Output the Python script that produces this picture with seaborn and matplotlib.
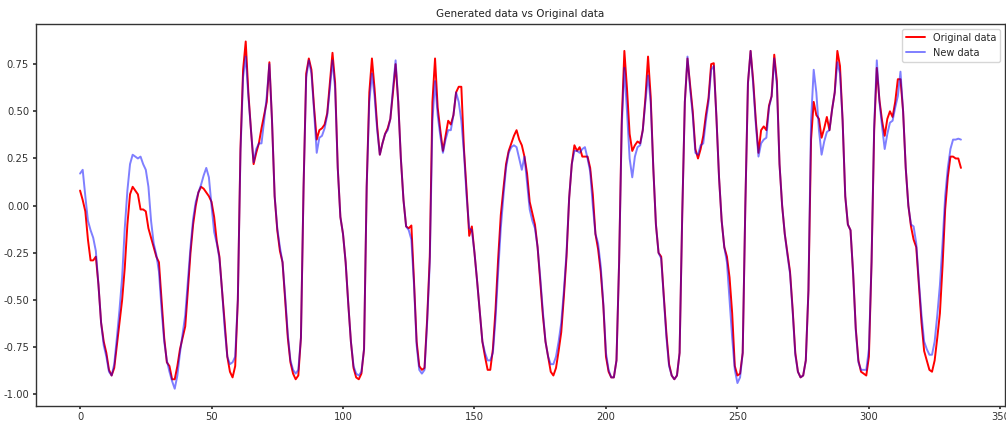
import numpy as np
import pandas as pd
import matplotlib
matplotlib.use("Agg")
import matplotlib.pyplot as plt
import seaborn as sns

title = "Generated data vs Original data"
series_names = ["Original data", "New data"]

original = [
    0.08, 0.03, -0.03, -0.18, -0.29, -0.29, -0.27, -0.42, -0.62, -0.72,
    -0.78, -0.87, -0.90, -0.86, -0.74, -0.62, -0.50, -0.33, -0.10, 0.06,
    0.10, 0.08, 0.06, -0.02, -0.02, -0.03, -0.12, -0.17, -0.22, -0.27,
    -0.30, -0.50, -0.70, -0.83, -0.85, -0.92, -0.92, -0.85, -0.76, -0.70,
    -0.64, -0.45, -0.25, -0.10, 0.00, 0.07, 0.10, 0.09, 0.07, 0.05,
    0.02, -0.06, -0.19, -0.27, -0.45, -0.62, -0.80, -0.88, -0.91, -0.85,
    -0.50, 0.30, 0.72, 0.87, 0.60, 0.40, 0.22, 0.28, 0.33, 0.41,
    0.48, 0.55, 0.76, 0.45, 0.05, -0.13, -0.24, -0.30, -0.50, -0.70,
    -0.83, -0.89, -0.92, -0.90, -0.70, 0.10, 0.70, 0.78, 0.72, 0.52,
    0.35, 0.40, 0.41, 0.43, 0.49, 0.65, 0.81, 0.65, 0.20, -0.06,
    -0.15, -0.30, -0.52, -0.72, -0.86, -0.91, -0.92, -0.89, -0.76, 0.10,
    0.60, 0.78, 0.62, 0.42, 0.27, 0.33, 0.38, 0.41, 0.46, 0.60,
    0.75, 0.55, 0.25, 0.03, -0.11, -0.12, -0.105, -0.40, -0.72, -0.85,
    -0.87, -0.86, -0.60, -0.27, 0.55, 0.78, 0.52, 0.40, 0.29, 0.37,
    0.45, 0.43, 0.48, 0.60, 0.63, 0.63, 0.30, 0.08, -0.16, -0.11,
    -0.25, -0.40, -0.56, -0.72, -0.80, -0.87, -0.87, -0.76, -0.55, -0.28,
    -0.05, 0.09, 0.22, 0.29, 0.33, 0.37, 0.40, 0.35, 0.32, 0.26,
    0.17, 0.02, -0.04, -0.10, -0.22, -0.40, -0.58, -0.72, -0.80, -0.88,
    -0.90, -0.86, -0.77, -0.67, -0.48, -0.27, 0.04, 0.22, 0.32, 0.29,
    0.31, 0.26, 0.26, 0.26, 0.20, 0.06, -0.15, -0.23, -0.35, -0.53,
    -0.80, -0.88, -0.91, -0.91, -0.82, -0.30, 0.45, 0.82, 0.62, 0.38,
    0.29, 0.32, 0.34, 0.33, 0.40, 0.57, 0.79, 0.58, 0.20, -0.10,
    -0.25, -0.27, -0.48, -0.68, -0.84, -0.90, -0.92, -0.90, -0.78, -0.05,
    0.55, 0.78, 0.64, 0.50, 0.30, 0.25, 0.30, 0.37, 0.48, 0.57,
    0.75, 0.755, 0.47, 0.15, -0.08, -0.22, -0.27, -0.38, -0.57, -0.85,
    -0.90, -0.89, -0.78, 0.00, 0.65, 0.82, 0.66, 0.45, 0.28, 0.40,
    0.42, 0.40, 0.53, 0.58, 0.80, 0.66, 0.22, 0.00, -0.15, -0.25,
    -0.35, -0.55, -0.78, -0.88, -0.91, -0.90, -0.82, -0.45, 0.35, 0.55,
    0.48, 0.46, 0.36, 0.41, 0.47, 0.40, 0.51, 0.60, 0.82, 0.74,
    0.45, 0.05, -0.10, -0.13, -0.36, -0.65, -0.82, -0.88, -0.89, -0.90,
    -0.80, -0.30, 0.40, 0.73, 0.56, 0.45, 0.37, 0.46, 0.50, 0.47,
    0.55, 0.67, 0.67, 0.50, 0.20, 0.00, -0.11, -0.18, -0.22, -0.42,
    -0.62, -0.77, -0.82, -0.87, -0.88, -0.82, -0.70, -0.57, -0.32, -0.02,
    0.15, 0.26, 0.26, 0.25, 0.25, 0.20,
]

generated = [
    0.17, 0.19, 0.05, -0.08, -0.13, -0.17, -0.24, -0.42, -0.62, -0.74,
    -0.80, -0.88, -0.90, -0.84, -0.70, -0.55, -0.38, -0.12, 0.08, 0.22,
    0.27, 0.26, 0.25, 0.26, 0.22, 0.19, 0.10, -0.08, -0.20, -0.26,
    -0.35, -0.55, -0.72, -0.82, -0.88, -0.93, -0.97, -0.90, -0.78, -0.68,
    -0.58, -0.40, -0.22, -0.07, 0.02, 0.07, 0.11, 0.16, 0.20, 0.15,
    0.00, -0.14, -0.20, -0.28, -0.45, -0.65, -0.80, -0.84, -0.83, -0.80,
    -0.50, 0.28, 0.68, 0.79, 0.58, 0.40, 0.23, 0.30, 0.33, 0.33,
    0.45, 0.58, 0.75, 0.45, 0.05, -0.12, -0.22, -0.30, -0.48, -0.68,
    -0.82, -0.87, -0.89, -0.87, -0.70, 0.10, 0.68, 0.77, 0.70, 0.50,
    0.28, 0.36, 0.37, 0.41, 0.48, 0.62, 0.77, 0.62, 0.20, -0.06,
    -0.15, -0.30, -0.52, -0.72, -0.85, -0.89, -0.90, -0.88, -0.76, 0.10,
    0.55, 0.70, 0.58, 0.40, 0.27, 0.33, 0.38, 0.40, 0.46, 0.62,
    0.77, 0.55, 0.25, 0.03, -0.11, -0.13, -0.18, -0.42, -0.74, -0.87,
    -0.89, -0.87, -0.62, -0.30, 0.45, 0.66, 0.48, 0.37, 0.28, 0.35,
    0.40, 0.40, 0.48, 0.60, 0.55, 0.45, 0.28, 0.05, -0.12, -0.13,
    -0.25, -0.40, -0.56, -0.72, -0.78, -0.82, -0.82, -0.78, -0.60, -0.35,
    -0.12, 0.05, 0.20, 0.28, 0.31, 0.32, 0.31, 0.25, 0.19, 0.26,
    0.12, -0.02, -0.08, -0.12, -0.22, -0.38, -0.56, -0.72, -0.80, -0.84,
    -0.84, -0.80, -0.72, -0.62, -0.45, -0.25, 0.04, 0.22, 0.29, 0.29,
    0.28, 0.30, 0.31, 0.25, 0.18, 0.00, -0.15, -0.20, -0.32, -0.52,
    -0.78, -0.87, -0.91, -0.91, -0.82, -0.30, 0.42, 0.73, 0.50, 0.25,
    0.15, 0.26, 0.31, 0.32, 0.40, 0.55, 0.69, 0.55, 0.20, -0.10,
    -0.25, -0.28, -0.49, -0.70, -0.85, -0.90, -0.92, -0.90, -0.78, -0.05,
    0.55, 0.79, 0.62, 0.48, 0.28, 0.27, 0.32, 0.33, 0.45, 0.55,
    0.72, 0.74, 0.47, 0.15, -0.08, -0.22, -0.30, -0.50, -0.70, -0.87,
    -0.94, -0.91, -0.78, 0.00, 0.65, 0.82, 0.64, 0.43, 0.26, 0.33,
    0.35, 0.36, 0.52, 0.58, 0.78, 0.64, 0.22, 0.00, -0.15, -0.26,
    -0.36, -0.56, -0.79, -0.88, -0.91, -0.90, -0.82, -0.45, 0.45, 0.72,
    0.60, 0.40, 0.27, 0.34, 0.39, 0.40, 0.51, 0.60, 0.76, 0.70,
    0.45, 0.05, -0.10, -0.13, -0.36, -0.66, -0.83, -0.87, -0.87, -0.87,
    -0.76, -0.30, 0.42, 0.77, 0.55, 0.42, 0.30, 0.38, 0.44, 0.45,
    0.52, 0.58, 0.71, 0.50, 0.20, 0.00, -0.10, -0.11, -0.20, -0.40,
    -0.58, -0.72, -0.76, -0.79, -0.79, -0.72, -0.58, -0.42, -0.20, 0.05,
    0.20, 0.30, 0.35, 0.35, 0.355, 0.35,
]

x_index = list(range(len(original)))

sns.set_theme(style="ticks", rc={
    "axes.edgecolor": "#333333",
    "axes.linewidth": 1.0,
    "xtick.color": "#333333",
    "ytick.color": "#333333",
    "xtick.labelsize": 7.2,
    "ytick.labelsize": 7.2,
    "xtick.major.size": 2.5,
    "ytick.major.size": 2.5,
    "xtick.major.pad": 2.0,
    "ytick.major.pad": 2.5,
    "axes.grid": False,
})
plt.rcParams["font.family"] = ["DejaVu Sans"]

fig, ax = plt.subplots(figsize=(10.06, 4.23), dpi=100)
fig.subplots_adjust(left=0.0358, right=0.999, top=0.943, bottom=0.04)

df_orig = pd.DataFrame({"x": x_index, "y": original})
df_gen = pd.DataFrame({"x": x_index, "y": generated})

sns.lineplot(data=df_orig, x="x", y="y", ax=ax, color="red", linewidth=1.4,
             label=series_names[0], estimator=None, sort=False)
sns.lineplot(data=df_gen, x="x", y="y", ax=ax, color="blue", alpha=0.5, linewidth=1.4,
             label=series_names[1], estimator=None, sort=False)

ax.set_xlabel("")
ax.set_ylabel("")
ax.set_title(title, fontsize=7.5, color="#222222", pad=5)
ax.set_xticks([0, 50, 100, 150, 200, 250, 300, 350])
ax.set_yticks([-1.0, -0.75, -0.5, -0.25, 0.0, 0.25, 0.5, 0.75])
ax.set_yticklabels(["-1.00", "-0.75", "-0.50", "-0.25", "0.00", "0.25", "0.50", "0.75"])
ax.margins(x=0.05, y=0.05)
for s in ax.spines.values():
    s.set_visible(True)

leg = ax.legend(loc="upper right", fontsize=7.0, frameon=True, fancybox=True,
                framealpha=0.8, edgecolor="#cccccc")

fig.savefig("out.png", dpi=100)
